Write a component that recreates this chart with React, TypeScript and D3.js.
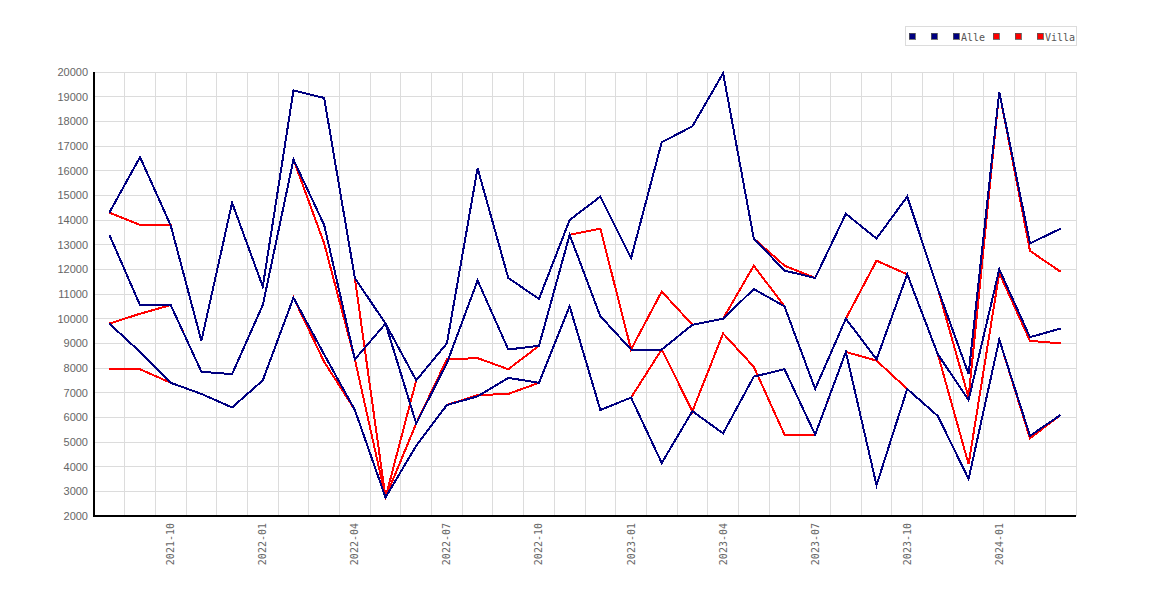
import React from "react";
import * as d3 from "d3";

const months: string[] = [
  "2021-08","2021-09","2021-10","2021-11","2021-12","2022-01","2022-02","2022-03",
  "2022-04","2022-05","2022-06","2022-07","2022-08","2022-09","2022-10","2022-11",
  "2022-12","2023-01","2023-02","2023-03","2023-04","2023-05","2023-06","2023-07",
  "2023-08","2023-09","2023-10","2023-11","2023-12","2024-01","2024-02","2024-03",
];

const tickMonths: string[] = [
  "2021-10","2022-01","2022-04","2022-07","2022-10","2023-01","2023-04","2023-07","2023-10","2024-01",
];

const yTicks: number[] = d3.range(2000, 20001, 1000);

const alleHigh: number[] = [14300,16550,13780,9100,14700,11300,19250,18950,11650,9800,7500,9000,16100,11650,10800,14000,14950,12450,17150,17800,19950,13250,11950,11650,14250,13250,14950,11200,7750,19200,13050,13650];
const alleMid: number[] = [13400,10550,10550,7850,7750,10550,16450,13800,8350,9800,5750,8200,11550,8750,8900,13400,10100,8750,8750,9750,10000,11200,10500,7150,10000,8350,11800,8550,6700,12000,9250,9600];
const alleLow: number[] = [9800,8650,7400,6950,6400,7500,10850,8550,6300,2750,4850,6500,6850,7600,7400,10500,6300,6800,4150,6250,5350,7650,7950,5300,8650,3250,7150,6050,3500,9150,5250,6100];

const villaA: number[] = [14300,13800,13780,9100,14700,11300,19250,18950,11650,2750,7500,9000,16100,11650,10800,14000,14950,12450,17150,17800,19950,13250,12150,11650,14250,13250,14950,11200,6800,19200,12750,11900];
const villaB: number[] = [9800,10200,10550,7850,7750,10550,16450,13050,8350,2750,5750,8350,8400,7950,8900,13400,13650,8750,11100,9750,10000,12150,10500,7150,10000,12350,11800,8550,4100,11850,9100,9000];
const villaC: number[] = [7950,7950,7400,6950,6400,7500,10850,8250,6300,2750,4850,6500,6900,6950,7400,10500,6300,6800,8750,6250,9400,8050,5300,5300,8650,8300,7150,6050,3500,9150,5150,6100];

const legendLabels: string[] = ["", "", "Alle", "", "", "Villa"];
const legendColors: string[] = ["#000080", "#000080", "#000080", "#ff0000", "#ff0000", "#ff0000"];

const W = 1170, H = 600;
const M = { left: 94, right: 1076, top: 72, bottom: 516 };

export default function App() {
  const x = d3.scaleBand<string>().domain(months).range([M.left, M.right]).padding(0);
  const bw = x.bandwidth();
  const px = (m: string) => (x(m) as number) + bw / 2;
  const y = d3.scaleLinear().domain([2000, 20000]).range([M.bottom, M.top]);

  const line = d3
    .line<number>()
    .x((_, i) => px(months[i]))
    .y((d) => y(d));

  const redSeries = [villaA, villaB, villaC];
  const blueSeries = [alleHigh, alleMid, alleLow];

  // legend layout
  const legendItems: { x: number; label: string; color: string }[] = [];
  let lx = 909;
  legendLabels.forEach((lab, i) => {
    legendItems.push({ x: lx, label: lab, color: legendColors[i] });
    lx += lab ? 10 + lab.length * 6 + 6 : 22;
  });

  return (
    <svg
      width={W}
      height={H}
      style={{ position: "absolute", left: 0, top: 0, background: "#fff" }}
    >
      <rect x={0} y={0} width={W} height={H} fill="#fff" />
      {/* vertical grid */}
      {months.map((m, i) => {
        const gx = (x(m) as number) + bw;
        return (
          <line key={"vg" + i} x1={gx} x2={gx} y1={M.top} y2={M.bottom} stroke="#dcdcdc" strokeWidth={1} shapeRendering="crispEdges" />
        );
      })}
      {/* horizontal grid */}
      {yTicks.filter((t) => t > 2000).map((t) => (
        <line key={"hg" + t} x1={M.left} x2={M.right} y1={y(t)} y2={y(t)} stroke="#dcdcdc" strokeWidth={1} shapeRendering="crispEdges" />
      ))}
      {/* y labels */}
      {yTicks.map((t) => (
        <text key={"yl" + t} x={88} y={y(t) + 4} textAnchor="end" fontFamily="'Liberation Sans', Arial, sans-serif" fontSize={11} fill="#666">
          {t}
        </text>
      ))}
      {/* x labels */}
      {tickMonths.map((m) => (
        <text
          key={"xl" + m}
          transform={`translate(${px(m) + 3.5},${M.bottom + 7}) rotate(-90)`}
          textAnchor="end"
          fontFamily="'DejaVu Sans Mono', monospace"
          fontSize={10}
          fill="#666"
        >
          {m}
        </text>
      ))}
      {/* series: red first, blue on top */}
      {redSeries.map((s, i) => (
        <path key={"r" + i} d={line(s) || ""} fill="none" stroke="#ff0000" strokeWidth={2} shapeRendering="crispEdges" />
      ))}
      {blueSeries.map((s, i) => (
        <path key={"b" + i} d={line(s) || ""} fill="none" stroke="#000080" strokeWidth={2} shapeRendering="crispEdges" />
      ))}
      {/* axes */}
      <line x1={M.left} x2={M.left} y1={M.top} y2={M.bottom + 1} stroke="#000" strokeWidth={1.5} shapeRendering="crispEdges" />
      <line x1={M.left} x2={M.right} y1={M.bottom} y2={M.bottom} stroke="#000" strokeWidth={1.5} shapeRendering="crispEdges" />
      {/* legend */}
      <rect x={905.5} y={26.5} width={170.5} height={19} fill="#fff" stroke="#dcdcdc" strokeWidth={1} shapeRendering="crispEdges" />
      {legendItems.map((it, i) => (
        <g key={"lg" + i}>
          <rect x={it.x} y={33} width={6} height={6} fill={it.color} stroke="#555" strokeWidth={0.8} shapeRendering="crispEdges" />
          {it.label && (
            <text x={it.x + 8} y={40.5} fontFamily="'DejaVu Sans Mono', monospace" fontSize={10} fill="#555">
              {it.label}
            </text>
          )}
        </g>
      ))}
    </svg>
  );
}
